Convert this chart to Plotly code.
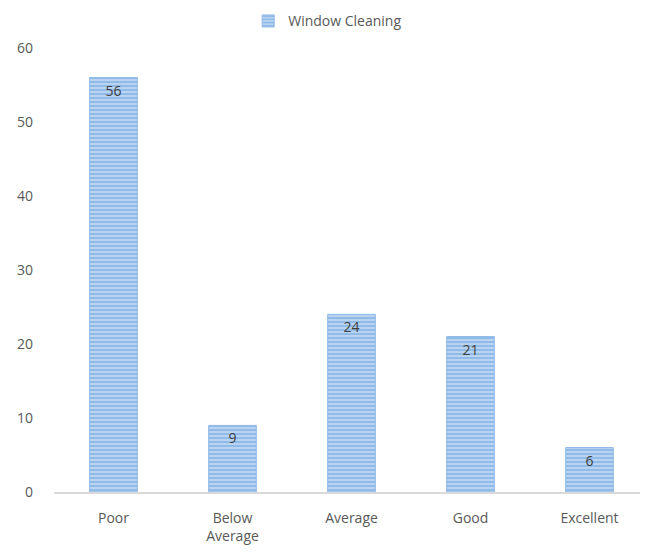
import plotly.graph_objects as go

categories = ["Poor", "Below<br>Average", "Average", "Good", "Excellent"]
values = [56, 9, 24, 21, 6]
series_name = "Window Cleaning"

fig = go.Figure()

fig.add_trace(go.Bar(
    x=categories, y=values,
    name=series_name,
    text=values,
    textposition="inside",
    insidetextanchor="end",
    textfont=dict(color="#404040", size=14),
    width=0.4,
    marker=dict(
        color="#ffffff",
        line=dict(width=1, color="#8DB8E6"),
        pattern=dict(shape="-", fgcolor="#6A9FDB", bgcolor="#B8D4F2", size=4, solidity=0.5),
    ),
    showlegend=True,
))

# page body adds ~7px offset, so margins are trimmed to compensate
fig.update_layout(
    width=648, height=555,
    margin=dict(l=46, r=7, t=40, b=71, autoexpand=False),
    plot_bgcolor="white", paper_bgcolor="white",
    font=dict(family="Open Sans, Liberation Sans, sans-serif", color="#595959", size=14),
    legend=dict(orientation="h", x=0.46, xanchor="center", y=1.06, yanchor="middle",
                font=dict(size=14, color="#595959"), itemwidth=30),
    bargap=0.6,
    uniformtext=dict(minsize=10, mode="show"),
)

fig.update_yaxes(range=[0, 60], dtick=10, showgrid=False, zeroline=False,
                 showline=False, ticks="", ticklabelstandoff=20,
                 tickfont=dict(size=14, color="#595959"))
fig.update_xaxes(showline=True, linecolor="#D9D9D9", linewidth=2, ticks="",
                 ticklabelstandoff=12, tickfont=dict(size=14, color="#595959"))

fig.write_html("out.html")
